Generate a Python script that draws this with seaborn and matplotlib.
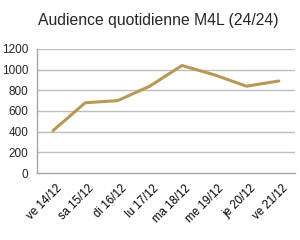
import matplotlib
matplotlib.use("Agg")
import matplotlib.pyplot as plt
import matplotlib.transforms as mtransforms
import seaborn as sns
import pandas as pd

days = ["ve 14/12", "sa 15/12", "di 16/12", "lu 17/12", "ma 18/12", "me 19/12", "je 20/12", "ve 21/12"]
audience = [410, 680, 700, 840, 1040, 950, 840, 890]
yticks = [0, 200, 400, 600, 800, 1000, 1200]

sns.set_theme(style="white")
plt.rcParams["font.family"] = ["Liberation Sans", "DejaVu Sans"]

df = pd.DataFrame({"day": days, "audience": audience})
df["pos"] = range(len(days))

fig = plt.figure(figsize=(3.0, 2.4), dpi=100)
ax = fig.add_axes([0.123, 0.279, 0.860, 0.517])

for v in yticks[1:]:
    ax.axhline(v, color="#BDBDBD", lw=1.0, zorder=0)

sns.lineplot(data=df, x="pos", y="audience", ax=ax, color="#B89852", lw=2.2)

ax.set_xlim(-0.5, len(days) - 0.5)
ax.set_ylim(0, 1200)
ax.set_yticks(yticks)
ax.set_yticklabels([str(v) for v in yticks])
ax.set_xticks([i - 0.5 for i in range(len(days) + 1)], minor=False)
ax.set_xticklabels([""] * (len(days) + 1))
ax.set_xticks(range(len(days)), minor=True)
ax.set_xticklabels(days, minor=True, rotation=45, ha="right", rotation_mode="anchor")
ax.tick_params(axis="x", which="minor", length=0, labelsize=8.3, pad=6, colors="black")
ax.tick_params(axis="x", which="major", length=4, width=1, color="#A6A6A6", direction="out")
ax.tick_params(axis="y", length=4, width=1, color="#A6A6A6", labelsize=8.5, pad=2, direction="out")
ax.set_xlabel("")
ax.set_ylabel("")

offset = mtransforms.ScaledTranslation(3 / 100, -1 / 100, fig.dpi_scale_trans)
for lbl in ax.get_xticklabels(minor=True):
    lbl.set_transform(lbl.get_transform() + offset)

for s in ["top", "right"]:
    ax.spines[s].set_visible(False)
for s in ["left", "bottom"]:
    ax.spines[s].set_color("#A6A6A6")
    ax.spines[s].set_linewidth(1.0)

fig.text(0.527, 0.915, "Audience quotidienne M4L (24/24)", ha="center", va="center", fontsize=11.3)

fig.savefig("out.png", dpi=100)
